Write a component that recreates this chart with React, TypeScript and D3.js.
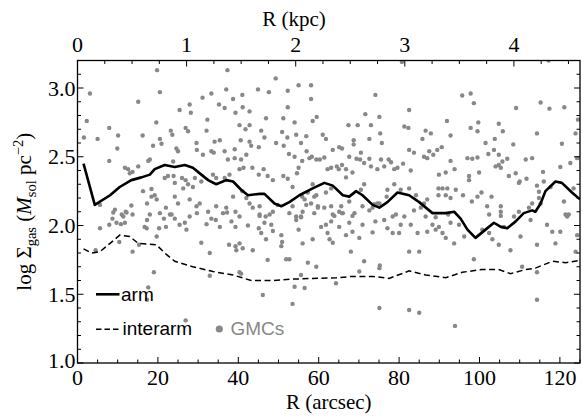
import * as d3 from "d3";

// arm / interarm profiles (R in arcsec, log Sigma_gas)
const armR = [1.5, 4.3, 8.1, 10.5, 13.4, 15.9, 18, 19.2, 21.7, 24.2, 26.7, 28.7, 30.8, 32.5, 34.5, 37, 38.7, 40.7, 42.4, 45.3, 46.5, 49, 50.7, 52.7, 55.2, 58.5, 61.4, 63.5, 66, 67.6, 69.3, 70.9, 73.4, 75.1, 77.1, 79.6, 82.5, 85, 88.3, 91.6, 93.7, 95.3, 97, 99, 101.5, 103.6, 105.3, 106.9, 109, 111, 113.1, 113.9, 115.2, 116.4, 118.9, 120.5, 123, 125];
const armLog = [2.45, 2.15, 2.22, 2.28, 2.33, 2.35, 2.37, 2.41, 2.44, 2.425, 2.44, 2.42, 2.37, 2.33, 2.3, 2.33, 2.32, 2.26, 2.22, 2.23, 2.23, 2.16, 2.14, 2.17, 2.22, 2.27, 2.31, 2.29, 2.22, 2.21, 2.25, 2.22, 2.15, 2.13, 2.17, 2.24, 2.22, 2.17, 2.09, 2.09, 2.1, 2.05, 1.97, 1.91, 1.97, 2.02, 1.99, 1.98, 2.03, 2.09, 2.11, 2.1, 2.16, 2.25, 2.32, 2.31, 2.24, 2.19];

const interR = [1.5, 3.5, 5.6, 8.1, 10.5, 13, 15.1, 19.6, 22.1, 24.2, 28.7, 33.7, 38.7, 43.2, 48.6, 53.5, 58.5, 64.3, 68.4, 73.4, 77.5, 82.5, 86.6, 91.6, 95.7, 100.7, 104.8, 107.7, 111.5, 113.9, 118.1, 121.4, 124.7];
const interLog = [1.83, 1.8, 1.81, 1.87, 1.93, 1.92, 1.87, 1.86, 1.79, 1.74, 1.7, 1.665, 1.64, 1.6, 1.6, 1.61, 1.615, 1.62, 1.63, 1.63, 1.615, 1.67, 1.64, 1.62, 1.66, 1.68, 1.68, 1.65, 1.68, 1.69, 1.74, 1.73, 1.745];

// GMCs: [R arcsec, log Sigma]
const gmcs: [number, number][] = [
  [19.8, 3.13], [37.3, 3.13], [49.3, 3.07], [3.1, 2.96], [20.5, 2.97], [37, 2.99], [55, 3.02], [58.1, 3.02],
  [44.9, 2.99], [47.6, 2.97], [52.3, 2.98], [33.3, 2.96], [31.1, 2.93], [38.7, 2.92], [41, 2.95], [58.1, 2.92],
  [15.1, 2.9], [27.9, 2.88], [28.2, 2.82], [35.2, 2.88], [36.6, 2.855], [39.3, 2.82], [41.1, 2.86], [42.8, 2.83],
  [25.4, 2.84], [32.3, 2.77], [46.9, 2.78], [51.2, 2.78], [52.3, 2.86], [54, 2.75], [58.5, 2.76], [59.5, 2.79],
  [2.3, 2.76], [19.6, 2.75], [7.9, 2.71], [1.6, 2.64], [40.3, 2.73], [42.8, 2.73], [41.8, 2.7], [45.7, 2.69],
  [23.2, 2.69], [23.6, 2.66], [26.9, 2.71], [27.5, 2.685], [10.1, 2.655], [16.2, 2.655], [32.1, 2.69], [34.1, 2.61],
  [20.5, 2.63], [5, 2.63], [9.9, 2.56], [7.9, 2.47], [18.8, 2.58], [20.9, 2.595], [24.6, 2.56], [25, 2.54],
  [29.6, 2.6], [29.7, 2.55], [31.2, 2.515], [33.9, 2.53], [35.4, 2.62], [36.6, 2.54], [39.1, 2.555], [40.6, 2.62],
  [42.8, 2.61], [43.2, 2.58], [45.1, 2.57], [46.5, 2.64], [49.4, 2.6], [51.3, 2.58], [52.6, 2.52], [54, 2.5],
  [57, 2.54], [58.3, 2.5], [59.4, 2.48], [56.9, 2.65], [54.4, 2.66], [52.2, 2.64], [50.9, 2.68], [33.3, 2.54],
  [37.4, 2.48], [39.1, 2.49], [40.7, 2.48], [42, 2.515], [23.8, 2.465], [17.6, 2.47], [11.8, 2.42], [12.6, 2.41],
  [13, 2.38], [13.7, 2.39], [15.1, 2.43], [18, 2.48], [21.7, 2.345], [22.5, 2.36], [23.9, 2.36], [24.2, 2.31],
  [26, 2.345], [26.9, 2.33], [27.5, 2.3], [26.3, 2.27], [28.7, 2.28], [29.2, 2.345], [30.8, 2.32], [33.7, 2.37],
  [34.5, 2.345], [36.6, 2.345], [37.8, 2.37], [40.3, 2.41], [41.3, 2.42], [43.5, 2.42], [45.1, 2.37], [46.3, 2.41],
  [47.3, 2.36], [48.6, 2.33], [51.2, 2.36], [52.3, 2.34], [53.5, 2.28], [54.6, 2.38], [55, 2.42], [55.9, 2.47],
  [57.7, 2.49], [58.5, 2.3], [57.3, 2.24], [55.9, 2.21], [59.4, 2.22], [41, 2.25], [42, 2.2], [38.7, 2.21],
  [42.8, 2.16], [43.6, 2.13], [45.3, 2.08], [46.8, 2.065], [48.6, 2.1], [52.7, 2.09], [54.4, 2.065], [37, 2.13],
  [34.5, 2.14], [32.5, 2.1], [30.4, 2.16], [29.6, 2.14], [27.9, 2.19], [25, 2.16], [24.2, 2.21], [23.4, 2.08],
  [22, 2.13], [20.5, 2.09], [19.7, 2.19], [19.2, 2.22], [18.4, 2.265], [17.3, 2.16], [16.3, 2.25], [13.4, 2.145],
  [12.2, 2.095], [11.4, 2.065], [9.3, 2.115], [8.7, 2.05], [5.6, 2.15], [18.4, 2.21],
  [80.7, 3.19], [117.2, 3.2], [74.1, 2.95], [95.7, 2.945], [97.8, 2.96], [98.6, 2.89], [115.2, 2.895], [117.4, 2.85],
  [121.1, 2.86], [109.1, 2.855], [82.5, 2.84], [71.6, 2.81], [75.1, 2.79], [91.9, 2.76], [99.7, 2.75], [67.4, 2.73],
  [69.7, 2.73], [73, 2.73], [81.3, 2.72], [82.3, 2.71], [97.8, 2.71], [99.5, 2.685], [104.8, 2.74], [105.8, 2.685],
  [124.5, 2.77], [123.9, 2.67], [114.3, 2.67], [61, 2.66], [61.8, 2.63], [75.3, 2.67], [72.6, 2.63], [86.6, 2.69],
  [87.9, 2.67], [92.8, 2.655], [68.7, 2.62], [68.7, 2.59], [75.7, 2.6], [85.8, 2.63], [103.8, 2.63], [101.5, 2.6],
  [108.4, 2.59], [120.5, 2.595], [55.6, 2.6], [63.5, 2.55], [65.1, 2.57], [65.8, 2.56], [70.5, 2.53], [82.5, 2.55],
  [83.7, 2.53], [87.5, 2.54], [89.5, 2.55], [90.6, 2.57], [88.5, 2.515], [103.6, 2.55], [104.8, 2.515], [102.2, 2.52],
  [67.6, 2.5], [60.3, 2.48], [61.4, 2.495], [69.4, 2.485], [70.3, 2.48], [72.6, 2.485], [75.5, 2.48], [77.4, 2.48],
  [86.2, 2.5], [87, 2.49], [92.8, 2.47], [97, 2.49], [98.2, 2.485], [99.5, 2.495], [106.9, 2.485], [111.5, 2.48],
  [113.1, 2.49], [120.1, 2.425], [122.6, 2.455], [124.3, 2.49], [104.8, 2.44], [105.7, 2.465], [104, 2.43], [105.3, 2.42],
  [115.8, 2.39], [62.2, 2.41], [63.1, 2.42], [64.5, 2.43], [65, 2.41], [65.8, 2.44], [66.8, 2.41], [66.8, 2.35],
  [68.4, 2.385], [71.3, 2.455], [73, 2.43], [74.6, 2.41], [76.3, 2.43], [78, 2.46], [79.6, 2.42], [78.8, 2.41],
  [81, 2.45], [82.9, 2.4], [89.9, 2.37], [91.6, 2.385], [93.8, 2.41], [97.4, 2.33], [97.4, 2.36], [99.9, 2.385],
  [107.3, 2.36], [109, 2.38], [109.8, 2.31], [110, 2.32], [111.7, 2.34], [114.3, 2.29], [116, 2.32], [123.4, 2.27],
  [121, 2.175], [122.2, 2.08], [121.8, 2.065], [117.7, 2.28], [114.8, 2.245], [114.8, 2.2], [113.1, 2.16], [115.2, 2.16],
  [112.3, 2.13], [109.8, 2.1], [108.6, 2.065], [105.3, 2.14], [105.3, 2.1], [105.3, 2.07], [101.9, 2.14], [102.4, 2.08],
  [103, 2.21], [100.5, 2.24], [99.5, 2.21], [98.1, 2.175], [95.9, 2.22], [94.1, 2.26], [91.6, 2.22], [89.8, 2.22],
  [89.8, 2.27], [90.8, 2.27], [92, 2.27], [92.8, 2.2], [92.2, 2.08], [89.1, 2.06], [86.2, 2.16], [85.4, 2.13],
  [87, 2.19], [84.2, 2.22], [82.5, 2.27], [80.4, 2.26], [78.8, 2.3], [77.1, 2.26], [76.9, 2.21], [75.1, 2.16],
  [73.8, 2.155], [73.4, 2.13], [71.3, 2.3], [70.5, 2.26], [70.9, 2.14], [67.6, 2.175], [68.4, 2.07], [65.6, 2.14],
  [66, 2.09], [65.1, 2.1], [63.5, 2.08], [63.1, 2.14], [61.4, 2.13], [59.8, 2.13], [58.9, 2.21], [58.1, 2.16],
  [56.5, 2.19], [56, 2.1], [55.6, 2.065], [61.8, 2.24], [63.1, 2.27], [81.3, 2.065], [78.4, 2.065],
  [8.9, 2.095], [11, 2.08], [12, 2.1], [13.7, 2.08], [5.6, 1.98], [7.9, 2.005], [9.7, 2.02], [10.8, 2.01],
  [11.8, 2.02], [10.4, 1.88], [4.5, 1.82], [13.7, 1.81], [15.3, 1.86], [16.7, 1.99], [17.3, 2.04], [17.2, 1.98],
  [18, 2.08], [19.7, 1.92], [20.3, 1.98], [21.5, 2.05], [22, 1.99], [23, 2.08], [24.2, 2.05], [25.4, 2.005],
  [26.7, 2.02], [27.1, 1.97], [27.9, 2.065], [29.7, 2.09], [30.8, 1.875], [32.1, 2.01], [33.3, 2.05], [34.4, 2.04],
  [35.4, 1.99], [36.2, 2.09], [37.2, 2.095], [38.3, 2.03], [39.3, 2.1], [39.3, 1.99], [40.3, 2.065], [37.7, 1.86],
  [39.3, 1.85], [39.5, 1.82], [40.3, 1.87], [41.1, 1.835], [32.9, 1.8], [42.4, 2], [43.6, 1.82], [45.3, 2.14],
  [45.3, 2.07], [45.1, 1.98], [45.7, 1.945], [46.5, 2.02], [46.9, 1.9], [47.8, 2.08], [48.2, 2.005], [48.6, 1.96],
  [47.3, 1.75], [49.8, 2.15], [50.7, 1.93], [50.9, 1.88], [51.9, 1.755], [52.7, 1.755], [50.7, 1.85], [53.5, 2.14],
  [54.4, 2.04], [55, 1.97], [55.6, 2.06], [56, 1.87], [56.9, 2.15], [57.3, 1.73], [58.5, 1.9], [59.4, 1.7],
  [58.9, 2.09], [59.8, 2.14], [60.6, 1.99], [61.8, 2.005], [62.2, 1.945], [62.7, 1.9], [63.1, 2.03], [63.5, 1.875],
  [63.9, 2.07], [65.1, 1.99], [65.8, 2.09], [66.8, 1.93], [67.6, 2.02], [68, 1.81], [68.4, 1.955], [68.9, 2.09],
  [70.1, 1.91], [70.9, 2.005], [71.3, 1.74], [72.6, 2.11], [73.4, 1.95], [74.1, 2.03], [74.6, 2.16], [75.1, 1.69],
  [75.2, 1.71], [76.3, 2.04], [77.1, 1.98], [78.4, 1.945], [79.2, 2.08], [80, 1.945], [80.4, 2.005], [82.5, 1.81],
  [82.9, 2.005], [83.7, 2.11], [84.6, 1.945], [85, 1.81], [86.6, 2.065], [87, 1.955], [88.3, 2.005], [89.1, 1.97],
  [89.9, 1.99], [90.8, 1.945], [91.6, 1.91], [92.8, 2.02], [93.7, 1.87], [94.9, 2.005], [96.2, 1.92], [98.6, 1.755],
  [100.7, 1.97], [102.4, 1.945], [103.2, 1.9], [104.8, 1.86], [106.1, 1.99], [107.7, 1.82], [110.2, 1.92], [110.6, 1.7],
  [112.7, 2.04], [114.3, 1.86], [116.8, 2.005], [118.1, 1.955], [118.9, 1.87], [120.1, 1.955], [121.4, 2.08], [123.9, 1.81],
  [124.3, 1.93],
  [19, 1.66], [17.6, 1.55], [17.3, 1.46], [26.9, 1.31], [32.9, 1.635], [40.3, 1.66], [40.7, 1.65], [46.1, 1.495],
  [53.5, 1.43], [54, 1.555], [56.5, 1.545], [64.3, 1.58], [75.1, 1.4], [82.5, 1.385], [85, 1.365], [114.3, 1.46],
  [55.6, 1.64], [70.1, 1.665], [93.9, 1.27], [114.3, 1.66],
];

const rTicks = [0, 20, 40, 60, 80, 100, 120];
const kpcTicks = [0, 1, 2, 3, 4];
const logTicks = [1.0, 1.5, 2.0, 2.5, 3.0];
const arcsecPerKpc = 27.14;

const W = 583;
const H = 419;
const left = 77.5;
const right = 580;
const top = 60.5;
const bottom = 363;

const serif = "'Liberation Serif', 'Times New Roman', serif";
const sans = "'Liberation Sans', Arial, Helvetica, sans-serif";

export default function App() {
  const x = d3.scaleLinear().domain([0, 125]).range([left, right]);
  const y = d3.scaleLinear().domain([1.0, 3.2]).range([bottom, top]);
  const xk = (k: number) => x(k * arcsecPerKpc);

  const line = d3
    .line<[number, number]>()
    .x((d) => x(d[0]))
    .y((d) => y(d[1]));

  const armPath = line(armR.map((r, i) => [r, armLog[i]]));
  const interPath = line(interR.map((r, i) => [r, interLog[i]]));

  const minorR = d3.range(0, 126, 5).filter((v) => v % 20 !== 0);
  const minorK = d3.range(0, 4.6, 0.25).filter((v) => Math.abs(v - Math.round(v)) > 0.01);
  const minorY = d3.range(1.0, 3.21, 0.1).filter((v) => Math.abs(v * 2 - Math.round(v * 2)) > 0.01);

  return (
    <svg
      width={W}
      height={H}
      style={{ position: "absolute", left: 0, top: 0, background: "#fff" }}
    >
      <defs>
        <clipPath id="plot">
          <rect x={left} y={top} width={right - left} height={bottom - top} />
        </clipPath>
      </defs>

      {/* GMCs */}
      <g clipPath="url(#plot)" fill="#888">
        {gmcs.map((d, i) => (
          <circle key={i} cx={x(d[0])} cy={y(d[1])} r={2.2} />
        ))}
      </g>

      <g clipPath="url(#plot)" fill="none" stroke="#000">
        <path d={interPath ?? ""} strokeWidth={1.5} strokeDasharray="6,3.5" />
        <path d={armPath ?? ""} strokeWidth={2.6} strokeLinejoin="round" />
      </g>

      {/* frame */}
      <rect x={left} y={top} width={right - left} height={bottom - top} fill="none" stroke="#000" strokeWidth={1.3} />

      {/* ticks */}
      <g stroke="#000" strokeWidth={1}>
        {rTicks.map((t) => (
          <line key={"b" + t} x1={x(t)} x2={x(t)} y1={bottom} y2={bottom - 6} />
        ))}
        {minorR.map((t) => (
          <line key={"bm" + t} x1={x(t)} x2={x(t)} y1={bottom} y2={bottom - 3.5} />
        ))}
        {kpcTicks.map((t) => (
          <line key={"t" + t} x1={xk(t)} x2={xk(t)} y1={top} y2={top + 6} />
        ))}
        {minorK.map((t) => (
          <line key={"tm" + t} x1={xk(t)} x2={xk(t)} y1={top} y2={top + 3.5} />
        ))}
        {logTicks.map((t) => (
          <g key={"l" + t}>
            <line x1={left} x2={left + 6} y1={y(t)} y2={y(t)} />
            <line x1={right} x2={right - 6} y1={y(t)} y2={y(t)} />
          </g>
        ))}
        {minorY.map((t) => (
          <g key={"lm" + t}>
            <line x1={left} x2={left + 3.5} y1={y(t)} y2={y(t)} />
            <line x1={right} x2={right - 3.5} y1={y(t)} y2={y(t)} />
          </g>
        ))}
      </g>

      {/* tick labels */}
      <g fontFamily={serif} fontSize={22} fill="#000">
        {rTicks.map((t) => (
          <text key={"bl" + t} x={x(t)} y={385} textAnchor="middle">
            {t}
          </text>
        ))}
        {kpcTicks.map((t) => (
          <text key={"tl" + t} x={xk(t)} y={52} textAnchor="middle">
            {t}
          </text>
        ))}
        {logTicks.map((t) => (
          <text key={"ll" + t} x={left - 2} y={y(t)} dy={t === 1 ? "0.22em" : "0.35em"} textAnchor="end">
            {t.toFixed(1)}
          </text>
        ))}
      </g>

      {/* axis titles */}
      <g fontFamily={serif} fontSize={21} fill="#000">
        <text x={(left + right) / 2} y={409} textAnchor="middle">
          R (arcsec)
        </text>
        <text x={294} y={26} textAnchor="middle">
          R (kpc)
        </text>
        <text transform={`translate(31,${(top + bottom) / 2}) rotate(-90)`} textAnchor="middle">
          log Σ
          <tspan fontSize={14.5} dy={5}>gas</tspan>
          <tspan dy={-5}> (</tspan>
          <tspan fontStyle="italic">M</tspan>
          <tspan fontSize={14.5} dy={5}>sol</tspan>
          <tspan dy={-5}> pc</tspan>
          <tspan fontSize={14.5} dy={-8}>−2</tspan>
          <tspan dy={8}>)</tspan>
        </text>
      </g>

      {/* legend */}
      <g fontFamily={sans} fontSize={19}>
        <line x1={96} x2={119.5} y1={294.3} y2={294.3} stroke="#000" strokeWidth={2.6} />
        <text x={121} y={300.5} fill="#000">arm</text>
        <line x1={96} x2={119.5} y1={329.3} y2={329.3} stroke="#000" strokeWidth={1.5} strokeDasharray="5.5,3" />
        <text x={122.5} y={334.5} fill="#000">interarm</text>
        <circle cx={219.3} cy={329} r={3.6} fill="#888" />
        <text x={230.5} y={334.5} fill="#888">GMCs</text>
      </g>
    </svg>
  );
}
